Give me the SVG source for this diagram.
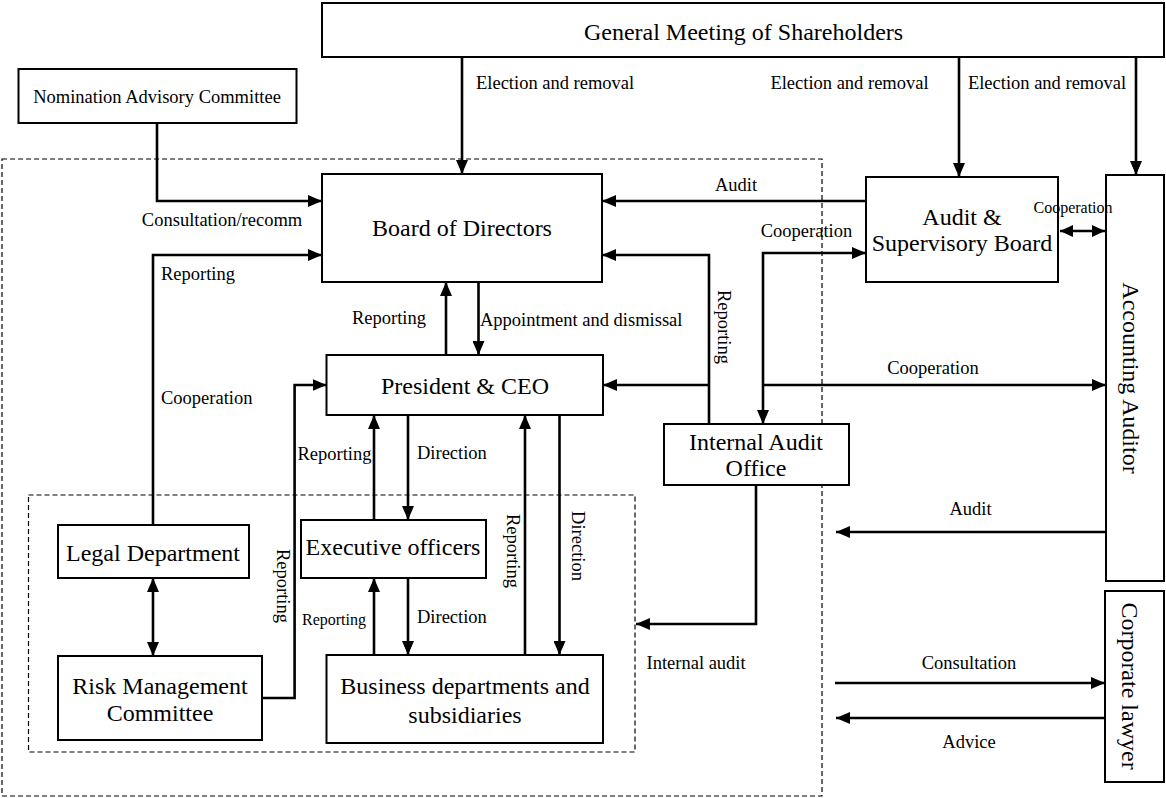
<svg xmlns="http://www.w3.org/2000/svg" width="1166" height="798" viewBox="0 0 1166 798">
<style>
  .box{fill:#fff;stroke:#000;stroke-width:2}
  .dash{fill:none;stroke:#000;stroke-width:1.2;stroke-dasharray:5,3}
  .c{fill:none;stroke:#000;stroke-width:2.6}
  .n{font-family:"Liberation Serif","Times New Roman",serif;font-size:24px;fill:#000;text-anchor:middle;dominant-baseline:central}
  .l{font-family:"Liberation Serif","Times New Roman",serif;font-size:18.5px;fill:#000;dominant-baseline:central}
  .s{font-family:"Liberation Serif","Times New Roman",serif;font-size:16px;fill:#000;dominant-baseline:central}
  .m{text-anchor:middle}
</style>
<defs>
  <marker id="a" markerUnits="userSpaceOnUse" markerWidth="14" markerHeight="12" refX="14" refY="6" orient="auto-start-reverse">
    <path d="M0,0 L14,6 L0,12 z" fill="#000"/>
  </marker>
  <marker id="as" markerUnits="userSpaceOnUse" markerWidth="13" markerHeight="12" refX="13" refY="6" orient="auto-start-reverse">
    <path d="M0,0 L13,6 L0,12 z" fill="#000"/>
  </marker>
</defs>

<g id="groups">
  <rect class="dash" x="2" y="159" width="820" height="637"/>
  <rect class="dash" x="28.5" y="495" width="606.5" height="257"/>
</g>

<g id="connectors">
  <path class="c" d="M157,123 V201 H322" marker-end="url(#a)"/>
  <path class="c" d="M462,57 V174" marker-end="url(#a)"/>
  <path class="c" d="M959,57 V177" marker-end="url(#a)"/>
  <path class="c" d="M1136,57 V175" marker-end="url(#a)"/>
  <path class="c" d="M866,201 H602" marker-end="url(#a)"/>
  <path class="c" d="M1060,231 H1105" marker-start="url(#as)" marker-end="url(#as)"/>
  <path class="c" d="M153,525 V255 H322" marker-end="url(#a)"/>
  <path class="c" d="M478.5,282 V355" marker-end="url(#a)"/>
  <path class="c" d="M446,355 V282" marker-end="url(#a)"/>
  <path class="c" d="M709,424 V255 H602" marker-end="url(#a)"/>
  <path class="c" d="M709,385 H603" marker-end="url(#a)"/>
  <path class="c" d="M763,424 V253 H866" marker-start="url(#a)" marker-end="url(#a)"/>
  <path class="c" d="M763,385 H1106" marker-end="url(#a)"/>
  <path class="c" d="M262,698 H294.6 V385 H326.5" marker-end="url(#a)"/>
  <path class="c" d="M374,520 V415" marker-end="url(#a)"/>
  <path class="c" d="M408,415 V520" marker-end="url(#a)"/>
  <path class="c" d="M525,655 V415" marker-end="url(#a)"/>
  <path class="c" d="M559.5,415 V655" marker-end="url(#a)"/>
  <path class="c" d="M374,655 V578" marker-end="url(#a)"/>
  <path class="c" d="M408,578 V655" marker-end="url(#a)"/>
  <path class="c" d="M153,578 V656" marker-start="url(#a)" marker-end="url(#a)"/>
  <path class="c" d="M1106,532 H836" marker-end="url(#a)"/>
  <path class="c" d="M756,485 V624 H636" marker-end="url(#a)"/>
  <path class="c" d="M835,683 H1105" marker-end="url(#a)"/>
  <path class="c" d="M1105,718 H836" marker-end="url(#a)"/>
</g>

<g id="gms">
  <rect class="box" x="322" y="3" width="842" height="54"/>
  <text class="n" x="743.5" y="32">General Meeting of Shareholders</text>
</g>
<g id="nomination">
  <rect class="box" x="18.5" y="69" width="278" height="54"/>
  <text class="n" style="font-size:18.5px" x="157" y="97">Nomination Advisory Committee</text>
</g>
<g id="board">
  <rect class="box" x="322" y="174" width="280" height="108"/>
  <text class="n" x="462" y="228">Board of Directors</text>
</g>
<g id="audit-board">
  <rect class="box" x="866" y="177" width="192" height="105"/>
  <text class="n" x="962" y="217">Audit &amp;</text>
  <text class="n" x="962" y="243">Supervisory Board</text>
</g>
<g id="accounting-auditor">
  <rect class="box" x="1106" y="175" width="58" height="406"/>
  <text class="n" transform="translate(1131,378) rotate(90)">Accounting Auditor</text>
</g>
<g id="corporate-lawyer">
  <rect class="box" x="1105" y="591" width="59" height="191"/>
  <text class="n" transform="translate(1130,686) rotate(90)">Corporate lawyer</text>
</g>
<g id="president">
  <rect class="box" x="326.5" y="355" width="276.5" height="60"/>
  <text class="n" x="465" y="386">President &amp; CEO</text>
</g>
<g id="internal-audit">
  <rect class="box" x="664" y="424" width="185" height="61"/>
  <text class="n" x="756" y="442">Internal Audit</text>
  <text class="n" x="756" y="468">Office</text>
</g>
<g id="legal">
  <rect class="box" x="58" y="525" width="191" height="53"/>
  <text class="n" x="153" y="553">Legal Department</text>
</g>
<g id="risk">
  <rect class="box" x="58" y="656" width="204" height="84"/>
  <text class="n" x="160" y="686">Risk Management</text>
  <text class="n" x="160" y="713">Committee</text>
</g>
<g id="executive">
  <rect class="box" x="301" y="520" width="185" height="58"/>
  <text class="n" x="393" y="547">Executive officers</text>
</g>
<g id="business">
  <rect class="box" x="326.5" y="655" width="276.5" height="88"/>
  <text class="n" x="465" y="686">Business departments and</text>
  <text class="n" x="465" y="715">subsidiaries</text>
</g>

<g id="labels">
  <text class="l" x="476" y="83">Election and removal</text>
  <text class="l m" x="849.5" y="83">Election and removal</text>
  <text class="l m" x="1047" y="83">Election and removal</text>
  <text class="l m" x="736" y="185">Audit</text>
  <text class="s m" x="1073" y="207">Cooperation</text>
  <text class="l m" x="806.5" y="231">Cooperation</text>
  <text class="l m" x="222" y="220">Consultation/recomm</text>
  <text class="l" x="161" y="274">Reporting</text>
  <text class="l m" transform="translate(724,327) rotate(90)">Reporting</text>
  <text class="l m" x="389" y="318">Reporting</text>
  <text class="l" x="480" y="320">Appointment and dismissal</text>
  <text class="l" x="161" y="398">Cooperation</text>
  <text class="l m" x="933" y="368">Cooperation</text>
  <text class="l m" x="334.5" y="454">Reporting</text>
  <text class="l" x="417" y="453">Direction</text>
  <text class="l m" transform="translate(513,551) rotate(90)">Reporting</text>
  <text class="l m" transform="translate(578,546) rotate(90)">Direction</text>
  <text class="l m" x="970.5" y="509">Audit</text>
  <text class="l m" transform="translate(283,586) rotate(90)">Reporting</text>
  <text class="s m" x="334" y="619">Reporting</text>
  <text class="l" x="417" y="617">Direction</text>
  <text class="l" x="646.5" y="663">Internal audit</text>
  <text class="l m" x="969" y="663">Consultation</text>
  <text class="l m" x="969" y="742">Advice</text>
</g>
</svg>
